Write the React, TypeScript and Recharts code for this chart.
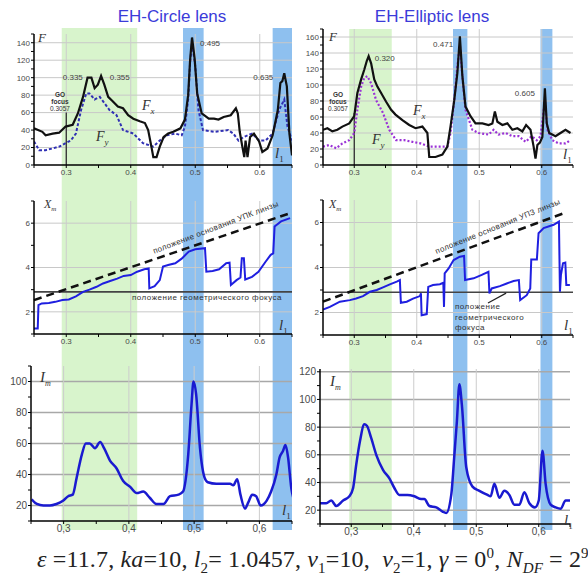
import React from 'react'
import {
  ComposedChart,
  Line,
  XAxis,
  YAxis,
  ReferenceArea,
  ReferenceLine,
  ReferenceDot,
} from 'recharts'

// shared l1 axis
const xTicks = [0.25, 0.3, 0.35, 0.4, 0.45, 0.5, 0.55, 0.6, 0.65]
const xMajor = [0.3, 0.4, 0.5, 0.6]

// highlighted l1 ranges
const circleGreen: [number, number] = [0.293, 0.41]
const circleBlue: [number, number][] = [[0.481, 0.513], [0.62, 0.653]]
const ellipseGreen: [number, number] = [0.292, 0.36]
const ellipseBlue: [number, number][] = [[0.458, 0.481], [0.598, 0.617]]

// top row: F_x (solid) and F_y (dashed)
const circleFx: [number, number][] = [
  [0.25, 42], [0.263, 38], [0.268, 34], [0.279, 36], [0.289, 37], [0.299, 44], [0.31, 46],
  [0.318, 59], [0.326, 78], [0.333, 100], [0.339, 100], [0.344, 88], [0.349, 92], [0.354, 102],
  [0.359, 92], [0.365, 78], [0.372, 73], [0.38, 67], [0.388, 65], [0.396, 57], [0.404, 53],
  [0.414, 50], [0.422, 48], [0.427, 40], [0.432, 21], [0.435, 9], [0.44, 9], [0.445, 21],
  [0.451, 32], [0.458, 36], [0.466, 38], [0.477, 42], [0.484, 52], [0.489, 80], [0.492, 120],
  [0.495, 146], [0.499, 122], [0.503, 82], [0.51, 59], [0.521, 53], [0.529, 53], [0.536, 52],
  [0.544, 55], [0.555, 57], [0.563, 65], [0.566, 59], [0.569, 38], [0.573, 21], [0.576, 9],
  [0.578, 28], [0.581, 9], [0.585, 32], [0.591, 36], [0.599, 27], [0.604, 15], [0.612, 19],
  [0.62, 34], [0.628, 63], [0.632, 94], [0.635, 96], [0.638, 105], [0.642, 90], [0.646, 36],
  [0.65, 11],
]
const circleFy: [number, number][] = [
  [0.25, 27], [0.258, 17], [0.268, 17], [0.279, 19], [0.289, 21], [0.299, 25], [0.307, 28],
  [0.315, 36], [0.323, 63], [0.331, 82], [0.336, 82], [0.344, 75], [0.352, 78], [0.359, 71],
  [0.367, 63], [0.378, 57], [0.388, 40], [0.404, 36], [0.419, 25], [0.435, 21], [0.445, 28],
  [0.456, 34], [0.469, 36], [0.479, 34], [0.484, 44], [0.489, 75], [0.492, 117], [0.495, 140],
  [0.5, 113], [0.505, 63], [0.512, 40], [0.53, 38], [0.551, 40], [0.559, 36], [0.567, 28],
  [0.575, 32], [0.588, 36], [0.599, 28], [0.609, 28], [0.62, 36], [0.63, 63], [0.638, 75],
  [0.643, 44], [0.65, 28],
]
const ellipseFx: [number, number][] = [
  [0.25, 44], [0.257, 46], [0.265, 42], [0.273, 44], [0.281, 48], [0.292, 52], [0.3, 61],
  [0.305, 90], [0.311, 107], [0.316, 119], [0.32, 130], [0.323, 136], [0.327, 127], [0.332, 107],
  [0.337, 98], [0.343, 90], [0.351, 79], [0.359, 69], [0.366, 63], [0.377, 56], [0.388, 50],
  [0.398, 46], [0.409, 48], [0.413, 44], [0.417, 40], [0.42, 10], [0.43, 10], [0.441, 13],
  [0.449, 23], [0.454, 48], [0.46, 81], [0.465, 115], [0.469, 161], [0.473, 111], [0.478, 73],
  [0.486, 61], [0.494, 52], [0.505, 52], [0.515, 50], [0.521, 52], [0.525, 67], [0.529, 54],
  [0.537, 50], [0.545, 52], [0.553, 44], [0.561, 46], [0.569, 42], [0.575, 50], [0.582, 44],
  [0.587, 23], [0.59, 8], [0.593, 25], [0.597, 28], [0.601, 35], [0.605, 96], [0.608, 52],
  [0.612, 40], [0.622, 36], [0.63, 40], [0.638, 44], [0.646, 40],
]
const ellipseFy: [number, number][] = [
  [0.25, 23], [0.26, 25], [0.271, 21], [0.281, 27], [0.292, 31], [0.3, 40], [0.305, 69],
  [0.311, 98], [0.316, 109], [0.321, 111], [0.327, 102], [0.335, 81], [0.346, 65], [0.356, 44],
  [0.367, 31], [0.38, 31], [0.393, 29], [0.406, 27], [0.42, 23], [0.436, 23], [0.449, 23],
  [0.454, 40], [0.46, 81], [0.465, 123], [0.469, 150], [0.473, 111], [0.478, 69], [0.489, 44],
  [0.499, 40], [0.515, 38], [0.523, 44], [0.531, 38], [0.542, 40], [0.553, 36], [0.563, 36],
  [0.574, 29], [0.584, 36], [0.592, 31], [0.598, 36], [0.605, 81], [0.609, 44], [0.617, 31],
  [0.627, 27], [0.638, 27], [0.646, 31],
]

// middle row: X_m
const circleXm: [number, number][] = [
  [0.25, 1.25], [0.2558, 1.25], [0.2569, 2.3], [0.262, 2.38], [0.273, 2.4], [0.283, 2.45],
  [0.294, 2.53], [0.304, 2.56], [0.315, 2.7], [0.326, 2.9], [0.336, 3.0], [0.347, 3.13],
  [0.357, 3.28], [0.368, 3.39], [0.379, 3.5], [0.389, 3.62], [0.4, 3.66], [0.41, 3.81],
  [0.421, 3.92], [0.4278, 3.96], [0.4288, 3.06], [0.437, 3.16], [0.445, 3.43], [0.45, 4.04],
  [0.458, 4.11], [0.469, 4.19], [0.479, 4.4], [0.49, 4.72], [0.5, 4.82], [0.5151, 4.87],
  [0.5172, 3.81], [0.527, 3.84], [0.537, 3.92], [0.548, 4.19], [0.5532, 4.22], [0.5553, 3.21],
  [0.564, 3.43], [0.5701, 3.55], [0.5722, 4.42], [0.5754, 4.42], [0.5775, 3.46], [0.588, 3.58],
  [0.598, 3.81], [0.609, 4.26], [0.617, 4.57], [0.6209, 4.64], [0.623, 5.85], [0.633, 6.08],
  [0.647, 6.23],
]
const ellipseXm: [number, number][] = [
  [0.25, 2.13], [0.261, 2.25], [0.277, 2.48], [0.293, 2.55], [0.303, 2.62], [0.314, 2.73],
  [0.325, 2.92], [0.336, 3.0], [0.346, 3.12], [0.357, 3.25], [0.368, 3.37], [0.373, 3.44],
  [0.3746, 2.43], [0.384, 2.48], [0.394, 2.62], [0.4051, 2.73], [0.4067, 2.85], [0.4078, 1.88],
  [0.416, 1.93], [0.4184, 3.14], [0.426, 3.22], [0.437, 3.26], [0.4425, 3.32], [0.4436, 2.25],
  [0.4447, 3.74], [0.451, 3.96], [0.459, 4.33], [0.469, 4.48], [0.4757, 4.51], [0.4773, 3.44],
  [0.491, 3.52], [0.504, 3.67], [0.5147, 3.81], [0.5163, 2.85], [0.52, 3.07], [0.533, 3.17],
  [0.544, 3.29], [0.555, 3.4], [0.5634, 3.44], [0.5655, 2.55], [0.576, 2.77], [0.5816, 3.07],
  [0.5832, 4.36], [0.5922, 4.36], [0.5949, 5.52], [0.603, 5.75], [0.619, 5.9], [0.6275, 6.04],
  [0.6291, 2.92], [0.6307, 3.67], [0.634, 4.19], [0.6377, 4.22], [0.6393, 3.22], [0.645, 3.22],
]
const circleBase: [number, number][] = [[0.25, 2.53], [0.647, 6.45]]
const ellipseBase: [number, number][] = [[0.25, 2.48], [0.64, 6.46]]
const geoFocus = 2.9

// bottom row: I_m
const circleIm: [number, number][] = [
  [0.251, 24], [0.259, 21], [0.269, 20], [0.279, 20], [0.289, 21], [0.299, 23], [0.307, 26],
  [0.314, 27], [0.32, 38], [0.328, 53], [0.334, 60], [0.34, 60], [0.348, 57], [0.356, 61],
  [0.362, 57], [0.371, 49], [0.381, 44], [0.391, 36], [0.402, 32], [0.412, 28], [0.422, 29],
  [0.432, 25], [0.442, 21], [0.453, 21], [0.463, 26], [0.476, 27], [0.483, 29], [0.491, 53],
  [0.496, 85], [0.499, 100], [0.503, 92], [0.509, 57], [0.516, 38], [0.521, 35], [0.534, 34],
  [0.555, 34], [0.56, 33], [0.566, 37], [0.571, 27], [0.578, 18], [0.583, 22], [0.589, 27],
  [0.595, 26], [0.602, 20], [0.611, 23], [0.618, 29], [0.626, 40], [0.631, 51], [0.636, 55],
  [0.64, 59], [0.644, 51], [0.649, 31], [0.652, 25],
]
const ellipseIm: [number, number][] = [
  [0.25, 25], [0.26, 25], [0.268, 27], [0.276, 23], [0.287, 27], [0.297, 30], [0.303, 36],
  [0.308, 53], [0.314, 70], [0.321, 82], [0.325, 81], [0.332, 72], [0.34, 60], [0.351, 49],
  [0.361, 43], [0.369, 36], [0.377, 31], [0.39, 31], [0.401, 30], [0.412, 28], [0.417, 28],
  [0.425, 23], [0.436, 22], [0.446, 19], [0.452, 18], [0.46, 31], [0.465, 60], [0.469, 84],
  [0.473, 111], [0.477, 96], [0.484, 51], [0.494, 37], [0.505, 34], [0.518, 31], [0.523, 30],
  [0.529, 39], [0.537, 29], [0.545, 34], [0.553, 31], [0.561, 24], [0.569, 24], [0.577, 33],
  [0.585, 25], [0.594, 22], [0.6, 27], [0.606, 63], [0.611, 39], [0.619, 24], [0.627, 22],
  [0.635, 21], [0.643, 27], [0.65, 27],
]

const rows = (pts: [number, number][]) => pts.map(([l1, v]) => ({ l1, v }))
const range = (a: number, b: number, s: number) => {
  const out: number[] = []
  for (let v = a; v <= b + 1e-9; v += s) out.push(Math.round(v * 100) / 100)
  return out
}

type Box = { l: number; r: number; t: number; b: number }
const YW = 30
const XH = 20
const PAD = 6
const SANS = '"Liberation Sans", Arial, sans-serif'
const SERIF = '"Liberation Serif", "Times New Roman", serif'

function Panel({
  box, yDomain, yStep, yLabelStep, comma, fontSize, gridColor, gridWidth, children,
}: {
  box: Box; yDomain: [number, number]; yStep: number; yLabelStep: number; comma?: boolean
  fontSize: number; gridColor: string; gridWidth: number; children: React.ReactNode
}) {
  const yTicks = range(yDomain[0], yDomain[1], yStep)
  const yGrid = yTicks.filter((v) => Math.abs(v / yLabelStep - Math.round(v / yLabelStep)) < 1e-6)
  const width = box.r - box.l + YW + 2 * PAD
  const height = box.b - box.t + XH + 2 * PAD
  const tick = { fontSize, fill: '#4a4a4a', fontFamily: SANS }
  return (
    <div style={{ position: 'absolute', left: box.l - YW - PAD, top: box.t - PAD }}>
      <ComposedChart width={width} height={height} margin={{ top: PAD, right: PAD, bottom: PAD, left: PAD }}>
        <XAxis
          dataKey="l1" type="number" domain={[0.25, 0.65]} ticks={xTicks} allowDataOverflow interval={0}
          height={XH} tick={tick} tickSize={3} tickMargin={1}
          axisLine={{ stroke: '#000', strokeWidth: 1.5 }} tickLine={{ stroke: '#000' }}
          tickFormatter={(v: number) => {
            if (!xMajor.some((m) => Math.abs(m - v) < 1e-6)) return ''
            const s = v.toFixed(1)
            return comma ? s.replace('.', ',') : s
          }}
        />
        <YAxis
          type="number" domain={yDomain} ticks={yTicks} allowDataOverflow width={YW} interval={0}
          tick={tick} tickSize={3} tickMargin={1}
          axisLine={{ stroke: '#000', strokeWidth: 1.5 }} tickLine={{ stroke: '#000' }}
          tickFormatter={(v: number) => (yGrid.includes(v) ? String(v) : '')}
        />
        {yGrid.filter((v) => v > yDomain[0]).map((v) => (
          <ReferenceLine key={'gy' + v} y={v} stroke={gridColor} strokeWidth={gridWidth} />
        ))}
        {xMajor.map((v) => (
          <ReferenceLine key={'gx' + v} x={v} stroke="#cccccc" strokeWidth={1} />
        ))}
        {children}
      </ComposedChart>
    </div>
  )
}

function Bands({ box, green, blue }: { box: Box; green: [number, number]; blue: [number, number][] }) {
  return (
    <div style={{ position: 'absolute', left: box.l, top: box.t }}>
      <ComposedChart
        width={box.r - box.l} height={box.b - box.t}
        margin={{ top: 0, right: 0, bottom: 0, left: 0 }}
        data={[{ l1: 0.25, v: 0 }, { l1: 0.65, v: 1 }]}
      >
        <XAxis dataKey="l1" type="number" domain={[0.25, 0.65]} hide allowDataOverflow />
        <YAxis type="number" domain={[0, 1]} hide />
        <ReferenceArea x1={green[0]} x2={green[1]} y1={0} y2={1} fill="#d8f4cc" fillOpacity={1} ifOverflow="visible" />
        {blue.map(([a, b]) => (
          <ReferenceArea key={a} x1={a} x2={b} y1={0} y2={1} fill="#8ec0ef" fillOpacity={1} ifOverflow="visible" />
        ))}
        <Line dataKey="v" stroke="none" dot={false} isAnimationActive={false} />
      </ComposedChart>
    </div>
  )
}

const T = ({ x, y, children, style }: { x: number; y: number; children: React.ReactNode; style?: React.CSSProperties }) => (
  <div style={{ position: 'absolute', left: x, top: y, whiteSpace: 'nowrap', lineHeight: 1, ...style }}>{children}</div>
)

const peakLabel = (value: string, position: 'left' | 'right', offset: number) => ({
  value, position, offset, fontSize: 8, fill: '#444', fontFamily: SANS,
})

const sym = { fontFamily: SERIF, fontStyle: 'italic', color: '#333' } as React.CSSProperties
const L1 = ({ x, y }: { x: number; y: number }) => (
  <T x={x} y={y} style={{ ...sym, fontSize: 15 }}>l<sub style={{ fontSize: 9, fontStyle: 'normal' }}>1</sub></T>
)
const GO = ({ x, y }: { x: number; y: number }) => (
  <T x={x} y={y} style={{ fontFamily: SANS, fontSize: 6.5, color: '#333', textAlign: 'center', lineHeight: '7px' }}>
    <b>GO</b><br /><b>focus</b><br />0.3057
  </T>
)

export default function App() {
  const solid = { type: 'linear' as const, dataKey: 'v', dot: false, isAnimationActive: false }
  const sub = { fontSize: 15 }
  return (
    <div style={{ position: 'absolute', left: 0, top: 0, width: 588, height: 578, background: '#fff', overflow: 'hidden', fontFamily: SANS }}>
      <Bands box={{ l: 34, r: 292, t: 28, b: 530 }} green={circleGreen} blue={circleBlue} />
      <Bands box={{ l: 323, r: 573, t: 29, b: 530 }} green={ellipseGreen} blue={ellipseBlue} />

      <T x={172} y={8} style={{ fontSize: 17, color: '#3b3bd9', transform: 'translateX(-50%)' }}>EH-Circle lens</T>
      <T x={432} y={8} style={{ fontSize: 17, color: '#3b3bd9', transform: 'translateX(-50%)' }}>EH-Elliptic lens</T>

      {/* row 1 */}
      <Panel box={{ l: 34, r: 292, t: 34, b: 165 }} yDomain={[0, 150]} yStep={10} yLabelStep={20} fontSize={8} gridColor="#c8c8c8" gridWidth={1}>
        <ReferenceLine segment={[{ x: 0.3, y: 0 }, { x: 0.3, y: 60 }]} stroke="#222" strokeWidth={1.2} />
        <Line {...solid} data={rows(circleFy)} stroke="#3030b4" strokeWidth={2} strokeDasharray="3 2" />
        <Line {...solid} data={rows(circleFx)} stroke="#111" strokeWidth={2.2} />
        <ReferenceDot x={0.335} y={101} r={0} label={peakLabel('0.335', 'left', 6)} />
        <ReferenceDot x={0.355} y={101} r={0} label={peakLabel('0.355', 'right', 8)} />
        <ReferenceDot x={0.495} y={140} r={0} label={peakLabel('0.495', 'right', 8)} />
        <ReferenceDot x={0.635} y={101} r={0} label={peakLabel('0.635', 'left', 9)} />
      </Panel>
      <Panel box={{ l: 323, r: 573, t: 29, b: 165 }} yDomain={[0, 170]} yStep={10} yLabelStep={20} fontSize={8} gridColor="#c8c8c8" gridWidth={1}>
        <ReferenceLine segment={[{ x: 0.3, y: 0 }, { x: 0.3, y: 65 }]} stroke="#222" strokeWidth={1.2} />
        <Line {...solid} data={rows(ellipseFy)} stroke="#9a32d6" strokeWidth={2.2} strokeDasharray="2 2" />
        <Line {...solid} data={rows(ellipseFx)} stroke="#111" strokeWidth={2.2} />
        <ReferenceDot x={0.32} y={134} r={0} label={peakLabel('0.320', 'right', 8)} />
        <ReferenceDot x={0.471} y={151} r={0} label={peakLabel('0.471', 'left', 8)} />
        <ReferenceDot x={0.605} y={90} r={0} label={peakLabel('0.605', 'left', 10)} />
      </Panel>

      <T x={38} y={31} style={{ ...sym, fontSize: 13 }}>F</T>
      <T x={329} y={30} style={{ ...sym, fontSize: 13 }}>F</T>
      <GO x={50} y={91} />
      <GO x={328} y={91} />
      <T x={142} y={99} style={{ ...sym, fontSize: 14 }}>F<sub style={{ fontSize: 9 }}>x</sub></T>
      <T x={96} y={130} style={{ ...sym, fontSize: 14 }}>F<sub style={{ fontSize: 9 }}>y</sub></T>
      <T x={413} y={104} style={{ ...sym, fontSize: 14 }}>F<sub style={{ fontSize: 9 }}>x</sub></T>
      <T x={372} y={133} style={{ ...sym, fontSize: 14 }}>F<sub style={{ fontSize: 9 }}>y</sub></T>
      <L1 x={275} y={146} />
      <L1 x={563} y={147} />

      {/* row 2 */}
      <Panel box={{ l: 34, r: 292, t: 201, b: 334 }} yDomain={[1, 7]} yStep={1} yLabelStep={2} fontSize={8} gridColor="#c8c8c8" gridWidth={1}>
        <ReferenceLine y={geoFocus} stroke="#444" strokeWidth={1.6} />
        <ReferenceLine segment={circleBase.map(([x, y]) => ({ x, y }))} stroke="#111" strokeWidth={2.5} strokeDasharray="8 5" />
        <Line {...solid} data={rows(circleXm)} stroke="#1f1fe0" strokeWidth={2} />
      </Panel>
      <Panel box={{ l: 323, r: 573, t: 200, b: 335 }} yDomain={[1, 7]} yStep={1} yLabelStep={2} fontSize={8} gridColor="#c8c8c8" gridWidth={1}>
        <ReferenceLine y={geoFocus} stroke="#444" strokeWidth={1.6} />
        <ReferenceLine segment={ellipseBase.map(([x, y]) => ({ x, y }))} stroke="#111" strokeWidth={2.5} strokeDasharray="8 5" />
        <ReferenceLine segment={[{ x: 0.514, y: 2.42 }, { x: 0.543, y: 2.86 }]} stroke="#222" strokeWidth={1.2} />
        <Line {...solid} data={rows(ellipseXm)} stroke="#1f1fe0" strokeWidth={2} />
      </Panel>

      <T x={44} y={198} style={{ ...sym, fontSize: 12 }}>X<sub style={{ fontSize: 7 }}>m</sub></T>
      <T x={329} y={198} style={{ ...sym, fontSize: 12 }}>X<sub style={{ fontSize: 7 }}>m</sub></T>
      <T x={216} y={228} style={{ fontSize: 8, color: '#333', letterSpacing: 0.3, transform: 'translate(-50%,-50%) rotate(-21deg)' }}>положение основания УПК линзы</T>
      <T x={498} y={227} style={{ fontSize: 8, color: '#333', letterSpacing: 0.3, transform: 'translate(-50%,-50%) rotate(-22deg)' }}>положение основания УПЗ линзы</T>
      <T x={132} y={294} style={{ fontSize: 8, color: '#333', letterSpacing: 0.5 }}>положение геометрического фокуса</T>
      <T x={455} y={302} style={{ fontSize: 8, color: '#333', letterSpacing: 0.5, lineHeight: '10.5px' }}>положение<br />геометрического<br />фокуса</T>
      <L1 x={279} y={318} />
      <L1 x={564} y={318} />

      {/* row 3 */}
      <Panel box={{ l: 31, r: 292, t: 366, b: 521 }} yDomain={[10, 110]} yStep={10} yLabelStep={20} comma fontSize={10} gridColor="#a8a8a8" gridWidth={1.5}>
        <Line type="monotone" dataKey="v" dot={false} isAnimationActive={false} data={rows(circleIm)} stroke="#1a1ad0" strokeWidth={2.5} />
      </Panel>
      <Panel box={{ l: 320, r: 570, t: 369, b: 524 }} yDomain={[10, 122]} yStep={10} yLabelStep={20} comma fontSize={10} gridColor="#a8a8a8" gridWidth={1.5}>
        <Line type="monotone" dataKey="v" dot={false} isAnimationActive={false} data={rows(ellipseIm)} stroke="#1a1ad0" strokeWidth={2.5} />
      </Panel>

      <T x={40} y={370} style={{ ...sym, fontSize: 15 }}>I<sub style={{ fontSize: 8 }}>m</sub></T>
      <T x={330} y={374} style={{ ...sym, fontSize: 15 }}>I<sub style={{ fontSize: 8 }}>m</sub></T>
      <L1 x={282} y={503} />
      <L1 x={564} y={513} />

      <T x={37} y={546} style={{ fontFamily: SERIF, fontSize: 24, color: '#222', letterSpacing: 0.15 }}>
        <i>ε</i> =11.7, <i>ka</i>=10, <i>l</i><sub style={sub}>2</sub>= 1.0457, <i>ν</i><sub style={sub}>1</sub>=10,&nbsp; <i>ν</i><sub style={sub}>2</sub>=1, <i>γ</i> = 0<sup style={sub}>0</sup>, <i>N</i><sub style={sub}><i>DF</i></sub> = 2<sup style={sub}>9</sup>
      </T>
    </div>
  )
}
